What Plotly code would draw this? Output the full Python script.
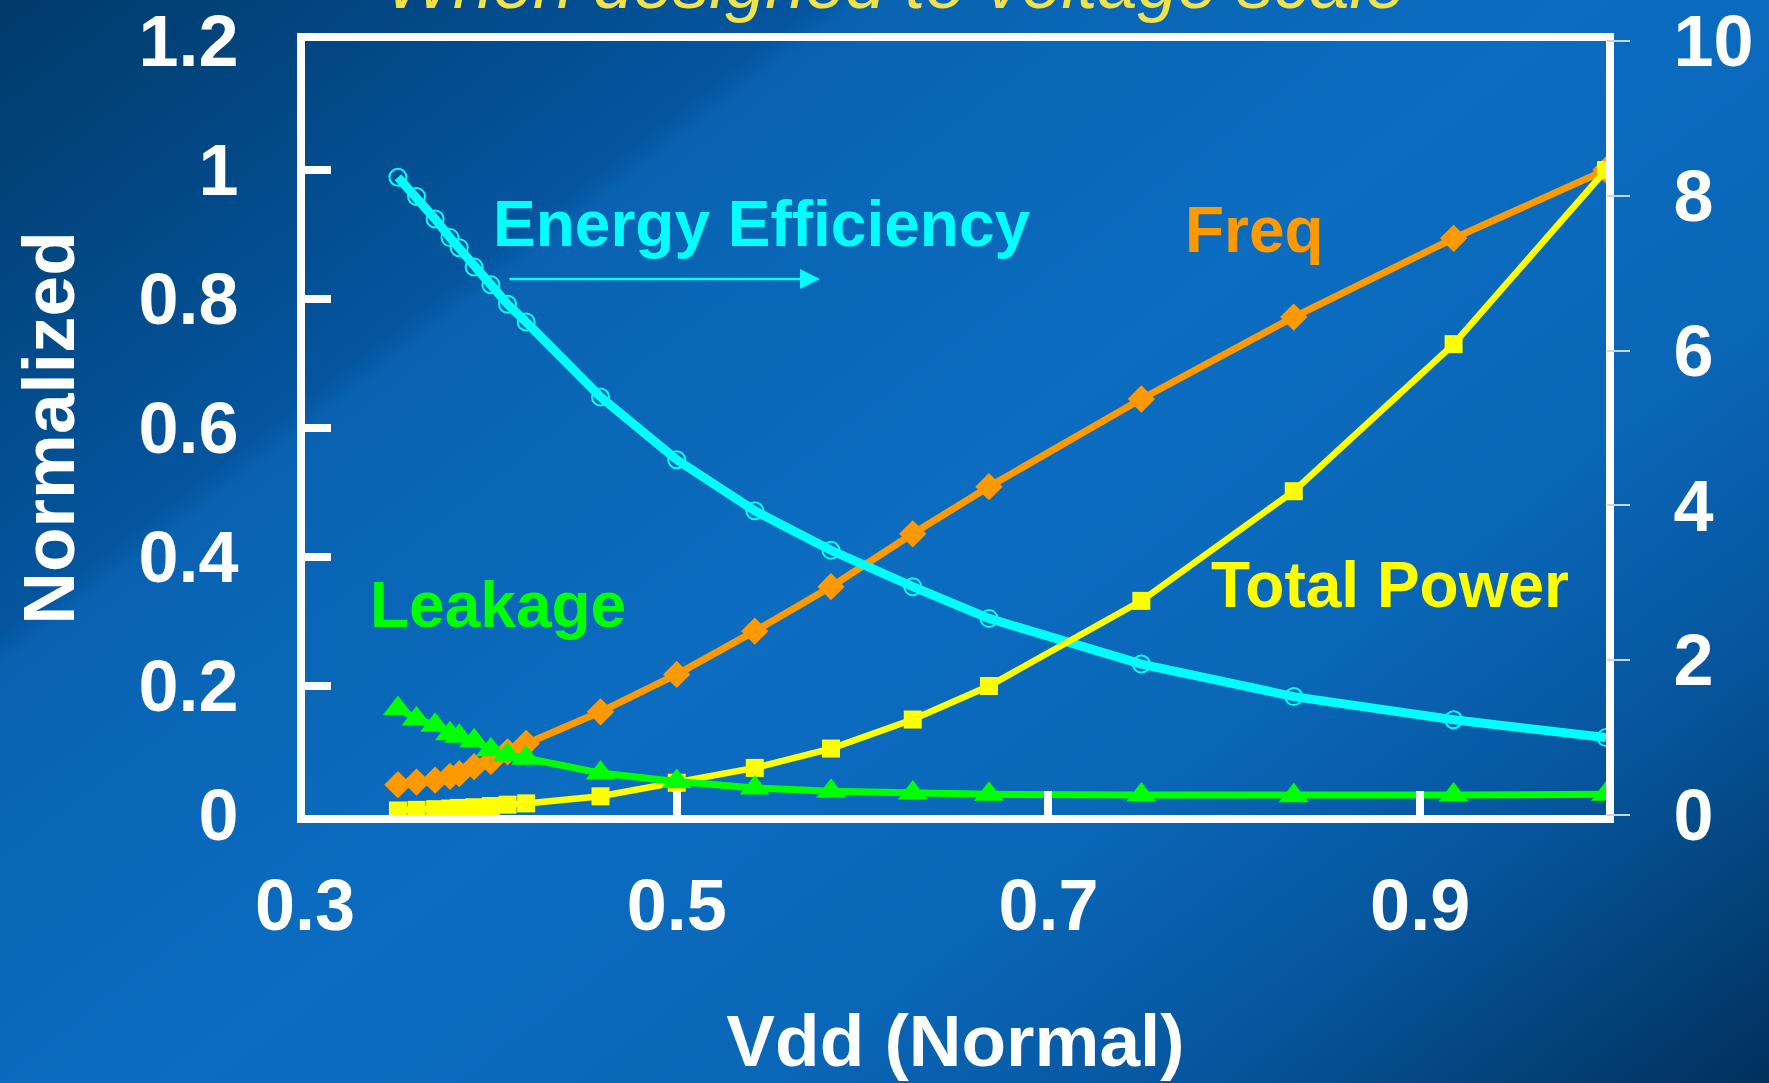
import base64
import plotly.graph_objects as go

# ---------------- data ----------------
vdd = [0.35, 0.36, 0.37, 0.378, 0.383, 0.391, 0.40, 0.409, 0.419, 0.459,
       0.50, 0.542, 0.583, 0.627, 0.668, 0.75, 0.832, 0.918, 1.00]
efficiency = [8.24, 7.99, 7.70, 7.46, 7.33, 7.08, 6.85, 6.60, 6.37, 5.40,
              4.59, 3.93, 3.42, 2.95, 2.54, 1.95, 1.53, 1.23, 1.00]
freq = [0.047, 0.051, 0.054, 0.060, 0.064, 0.075, 0.083, 0.098, 0.111, 0.160,
        0.218, 0.285, 0.354, 0.436, 0.509, 0.645, 0.772, 0.894, 1.00]
total_power = [0.007, 0.008, 0.009, 0.010, 0.011, 0.012, 0.014, 0.016, 0.018, 0.029,
               0.050, 0.073, 0.103, 0.148, 0.200, 0.332, 0.502, 0.730, 1.00]
leakage = [0.165, 0.149, 0.139, 0.126, 0.122, 0.115, 0.101, 0.093, 0.088, 0.065,
           0.052, 0.042, 0.037, 0.034, 0.032, 0.031, 0.030, 0.031, 0.032]

x_ticks = [0.3, 0.5, 0.7, 0.9]
left_range = [0, 1.2]
right_range = [0, 10]

# ---------------- styling ----------------
W, H = 1769, 1083
L, R, T, B = 305, 1606, 41, 815   # plot area in pixels
FONT = "Liberation Sans, Arial, sans-serif"
CYAN, ORANGE, YELLOW, GREEN = "#00FFFF", "#FF9900", "#FFFF00", "#00FF00"


def px(x):
    return (x - L) / (R - L)


def py(y):
    return (B - y) / (B - T)


svg = (
    f'<svg xmlns="http://www.w3.org/2000/svg" width="{W}" height="{H}" viewBox="0 0 {W} {H}" '
    'preserveAspectRatio="none"><defs><linearGradient id="g" gradientUnits="userSpaceOnUse" '
    'x1="0" y1="0" x2="1178" y2="1525">'
    '<stop offset="0" stop-color="#013a6a"/>'
    '<stop offset="0.26" stop-color="#04559f"/>'
    '<stop offset="0.275" stop-color="#0962b1"/>'
    '<stop offset="0.5" stop-color="#0b6cc0"/>'
    '<stop offset="0.68" stop-color="#0a67b8"/>'
    '<stop offset="0.82" stop-color="#06569e"/>'
    '<stop offset="1" stop-color="#01325e"/>'
    '</linearGradient></defs>'
    f'<rect width="{W}" height="{H}" fill="url(#g)"/></svg>'
)
bg_src = "data:image/svg+xml;base64," + base64.b64encode(svg.encode()).decode()

fig = go.Figure()

fig.add_trace(go.Scatter(
    x=vdd, y=freq, name="Freq", mode="lines+markers", yaxis="y",
    line=dict(color=ORANGE, width=7),
    marker=dict(symbol="diamond", size=21, color=ORANGE)))

fig.add_trace(go.Scatter(
    x=vdd, y=efficiency, name="Energy Efficiency", mode="lines+markers", yaxis="y2",
    line=dict(color=CYAN, width=9),
    marker=dict(symbol="circle-open", size=17, color=CYAN, line=dict(width=2, color=CYAN))))

fig.add_trace(go.Scatter(
    x=vdd, y=total_power, name="Total Power", mode="lines+markers", yaxis="y4",
    line=dict(color=YELLOW, width=6.5),
    marker=dict(symbol="square", size=18, color=YELLOW)))

fig.add_trace(go.Scatter(
    x=vdd, y=leakage, name="Leakage", mode="lines+markers", yaxis="y4",
    line=dict(color=GREEN, width=7),
    marker=dict(symbol="triangle-up", size=26, color=GREEN)))

tickfont = dict(family=FONT, size=72, color="white", weight="bold")

fig.update_layout(
    width=W, height=H,
    margin=dict(l=L, r=W - R, t=T, b=H - B, pad=0, autoexpand=False),
    paper_bgcolor="#0a62b0", plot_bgcolor="rgba(0,0,0,0)",
    showlegend=False,
    images=[dict(source=bg_src, xref="paper", yref="paper",
                 x=px(0), y=py(0), sizex=px(W) - px(0), sizey=py(0) - py(H),
                 xanchor="left", yanchor="top", sizing="stretch", layer="below")],
    xaxis=dict(range=[0.3, 1.0], tickvals=x_ticks, ticktext=[str(v) for v in x_ticks],
               showline=True, linewidth=8, linecolor="white", mirror=True, automargin=False,
               ticks="inside", ticklen=24, tickwidth=8, tickcolor="white",
               showgrid=False, zeroline=False, tickfont=tickfont, ticklabelstandoff=21,
               title=dict(text="Vdd (Normal)", font=dict(family=FONT, size=73, color="white", weight="bold"),
                          standoff=73)),
    yaxis=dict(range=left_range, dtick=0.2, tick0=0, automargin=False,
               showline=True, linewidth=8, linecolor="white", mirror=True,
               ticks="inside", ticklen=26, tickwidth=8, tickcolor="white",
               showgrid=False, zeroline=False, tickfont=tickfont, ticklabelstandoff=44,
               title=dict(text="Normalized", font=dict(family=FONT, size=73, color="white", weight="bold"),
                          standoff=43)),
    yaxis2=dict(range=right_range, dtick=2, tick0=0, overlaying="y", side="right", anchor="x",
                automargin=False,
                showline=False, ticks="outside", ticklen=23, tickwidth=2, tickcolor="#c8d6e6",
                showgrid=False, zeroline=False, tickfont=tickfont, ticklabelstandoff=29),
    yaxis3=dict(range=right_range, dtick=2, tick0=0, overlaying="y", side="right", anchor="x",
                automargin=False,
                showline=False, ticks="inside", ticklen=20, tickwidth=2, tickcolor="#c8d6e6",
                showticklabels=False, showgrid=False, zeroline=False),
    yaxis4=dict(range=left_range, overlaying="y", side="left", anchor="x", visible=False,
                automargin=False),
)

ann_font = lambda c: dict(family=FONT, size=64, color=c, weight="bold")
fig.add_annotation(text="Energy Efficiency", xref="paper", yref="paper", x=px(491), y=py(224),
                   xanchor="left", yanchor="middle", showarrow=False, font=ann_font(CYAN))
fig.add_annotation(text="", xref="paper", yref="paper", x=px(820), y=py(279), ax=-312, ay=0,
                   showarrow=True, arrowhead=2, arrowsize=1.6, arrowwidth=2.5, arrowcolor=CYAN)
fig.add_annotation(text="Freq", xref="paper", yref="paper", x=px(1183), y=py(230),
                   xanchor="left", yanchor="middle", showarrow=False, font=ann_font(ORANGE))
fig.add_annotation(text="Total Power", xref="paper", yref="paper", x=px(1209), y=py(585),
                   xanchor="left", yanchor="middle", showarrow=False, font=ann_font(YELLOW))
fig.add_annotation(text="Leakage", xref="paper", yref="paper", x=px(368), y=py(605),
                   xanchor="left", yanchor="middle", showarrow=False, font=ann_font(GREEN))
fig.add_annotation(text="When designed to voltage scale", xref="paper", yref="paper",
                   x=px(895), y=py(-17), xanchor="center", yanchor="middle", showarrow=False,
                   font=dict(family=FONT, size=72, color="#F0E24C", style="italic"))

fig.write_html(
    "out.html",
    config=dict(displayModeBar=False),
    post_script="document.body.style.margin='0';document.body.style.overflow='hidden';"
                "document.body.style.background='#0a62b0';",
)
